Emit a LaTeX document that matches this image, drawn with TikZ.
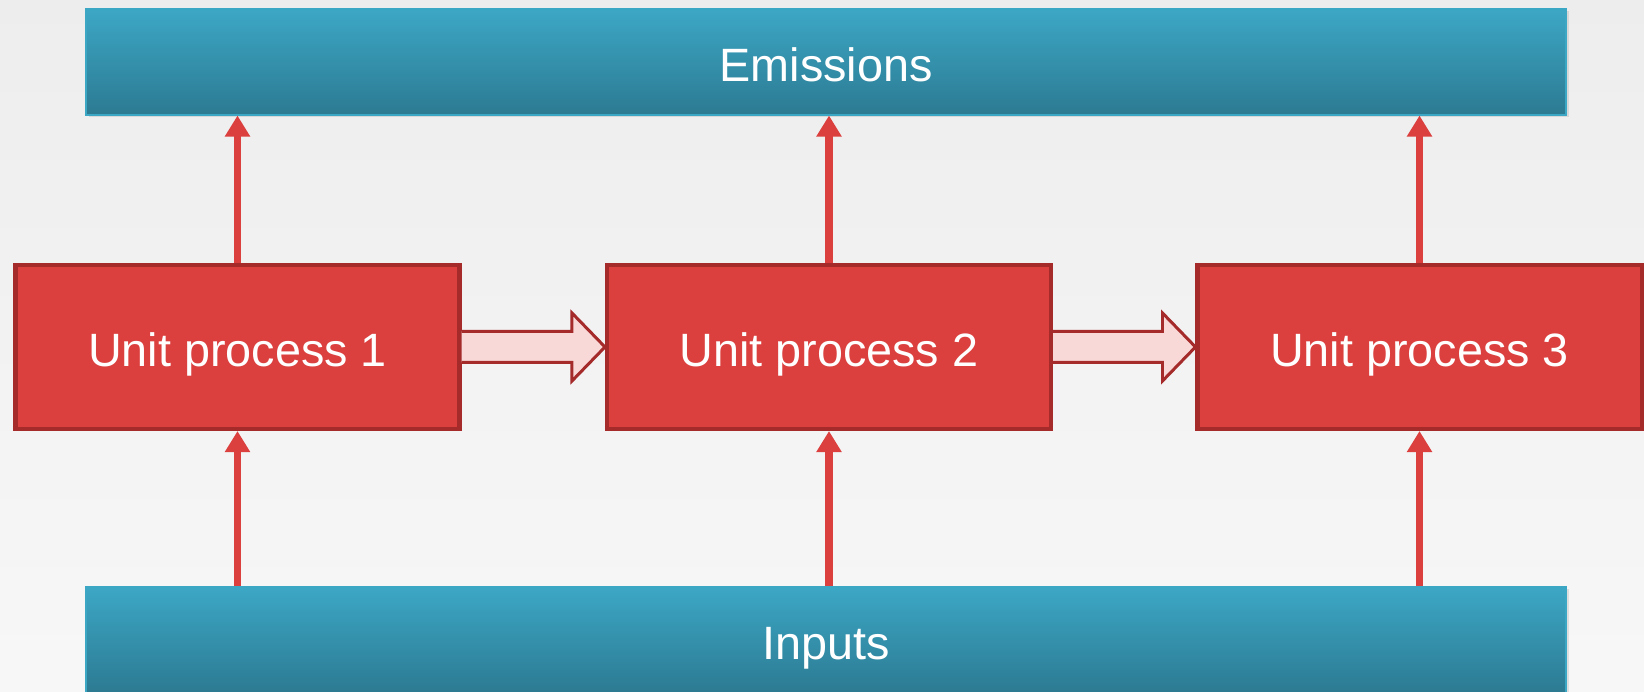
\documentclass[tikz,border=0pt]{standalone}
\usepackage{fontspec}
\setmainfont{Liberation Sans}
\usetikzlibrary{arrows.meta,calc,shadows}
\definecolor{unitred}{HTML}{DB3F3E}
\definecolor{unitdark}{HTML}{A52A2A}
\definecolor{flowpink}{HTML}{F9D9D8}
\definecolor{barlight}{HTML}{3CA7C5}
\definecolor{bardark}{HTML}{2C7A92}
\tikzset{
  unit/.style={draw=unitdark, line width=2.3pt, fill=unitred, minimum width=8.88cm,
    minimum height=3.28cm, text=white, font=\fontsize{26.6}{32}\selectfont,
    text height=22.6pt, text depth=0pt},
  bar/.style={top color=barlight, bottom color=bardark, draw=barlight, line width=0.6pt,
    minimum width=29.6cm, minimum height=2.12cm, text=white, font=\fontsize{26.6}{32}\selectfont,
    text height=22.6pt, text depth=0pt,
    drop shadow={opacity=0.2, shadow xshift=0.05cm, shadow yshift=-0.05cm}},
  up/.style={draw=unitred, line width=4.5pt, -{Triangle[width=0.48cm,length=0.42cm]}},
  flow/.style={draw=unitdark, line width=1.7pt, fill=flowpink, line join=miter}
}

\begin{document}
\begin{tikzpicture}
  \useasboundingbox (0,0) rectangle (32.88,13.84);
  \shade[top color=black!7, bottom color=black!3] (0,0) rectangle (32.88,13.84);
  \node[bar] (emis) at (16.52,12.6) {Emissions};
  \node[bar] (inp) at (16.52,1.04) {Inputs};
  \foreach \i/\x in {1/4.75,2/16.58,3/28.39}
    \node[unit] (u\i) at (\x,6.9) {Unit process \i};
  \foreach \i in {1,2,3} {
    \draw[up] (u\i.north) -- (u\i.north |- emis.south);
    \draw[up] (inp.north -| u\i.south) -- (u\i.south);
  }
  \foreach \i/\j in {1/2,2/3}
    \draw[flow] ($(u\i.east)+(0,0.31)$) -- ($(u\j.west)+(-0.66,0.31)$)
      -- ($(u\j.west)+(-0.66,0.68)$) -- (u\j.west) -- ($(u\j.west)+(-0.66,-0.68)$)
      -- ($(u\j.west)+(-0.66,-0.31)$) -- ($(u\i.east)+(0,-0.31)$);
\end{tikzpicture}
\end{document}
